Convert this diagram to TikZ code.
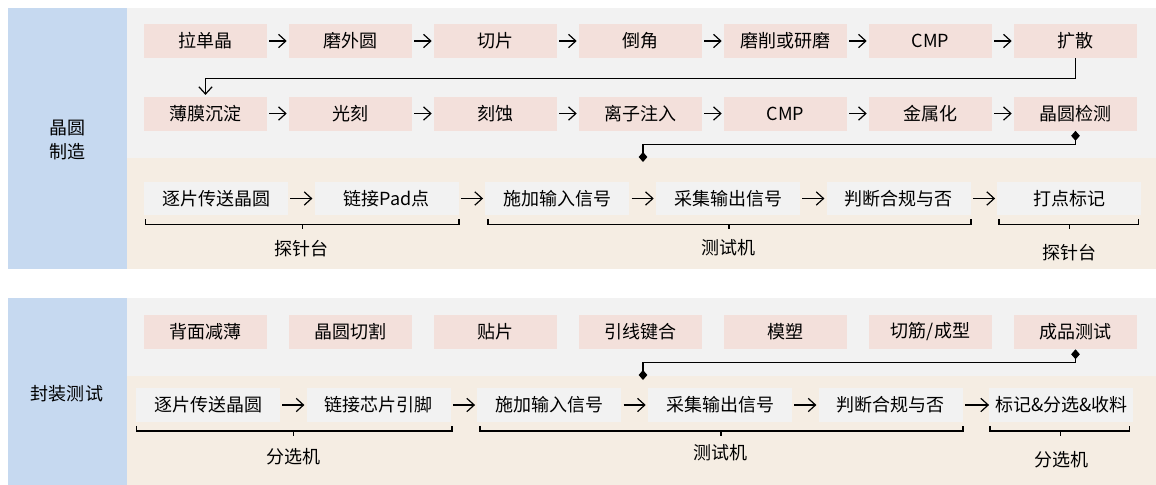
\documentclass[tikz,border=0pt]{standalone}
\usepackage{fontspec}
\setmainfont{Noto Sans CJK SC}
\usetikzlibrary{positioning,calc}
\usetikzlibrary{arrows.meta}

\definecolor{panelblue}{RGB}{198,217,240}
\definecolor{stepgray}{RGB}{242,242,242}
\definecolor{testbeige}{RGB}{245,237,227}
\definecolor{procpink}{RGB}{243,224,219}

\begin{document}
\begin{tikzpicture}[x=0.75pt,y=-0.75pt,
      font=\fontsize{13.5}{18}\selectfont,
      proc/.style={fill=procpink, minimum width=92.25pt, minimum height=25.5pt, inner sep=0pt},
      test/.style={fill=stepgray, minimum width=108pt, minimum height=25pt, inner sep=0pt},
      flow/.style={-{Straight Barb[length=5.5pt,width=10pt]}, line width=0.9pt,
         shorten <=1.5pt, shorten >=1.5pt},
      link/.style={{Diamond[length=7.5pt,width=6.5pt]}-{Diamond[length=7.5pt,width=6.5pt]},
         line width=0.9pt},
      bracket/.style={line width=0.9pt}]

   \useasboundingbox (0,0) rectangle (1156,485);

   % panels
   \fill[panelblue] (8,8)     rectangle (127,269);
   \fill[stepgray]  (127,8)   rectangle (1156,157.5);
   \fill[testbeige] (127,157.5) rectangle (1156,269);
   \fill[panelblue] (8,298)   rectangle (127,485);
   \fill[stepgray]  (127,298) rectangle (1156,376);
   \fill[testbeige] (127,376) rectangle (1156,485);

   \node[align=center] (fab) at (67,140) {晶圆\\制造};
   \node               (pkg) at (67,394) {封装测试};

   % wafer process, first row
   \node[proc]                    (w1) at (205.5,41) {拉单晶};
   \node[proc, right=16.1pt of w1] (w2) {磨外圆};
   \node[proc, right=16.1pt of w2] (w3) {切片};
   \node[proc, right=16.1pt of w3] (w4) {倒角};
   \node[proc, right=16.1pt of w4] (w5) {磨削或研磨};
   \node[proc, right=16.1pt of w5] (w6) {CMP};
   \node[proc, right=16.1pt of w6] (w7) {扩散};

   % wafer process, second row
   \node[proc, below=28.5pt of w1] (f1) {薄膜沉淀};
   \node[proc, right=16.1pt of f1] (f2) {光刻};
   \node[proc, right=16.1pt of f2] (f3) {刻蚀};
   \node[proc, right=16.1pt of f3] (f4) {离子注入};
   \node[proc, right=16.1pt of f4] (f5) {CMP};
   \node[proc, right=16.1pt of f5] (f6) {金属化};
   \node[proc, right=16.1pt of f6] (f7) {晶圆检测};

   % wafer probing
   \node[test]                    (p1) at (216,198.5) {逐片传送晶圆};
   \node[test, right=19.6pt of p1] (p2) {链接Pad点};
   \node[test, right=19.6pt of p2] (p3) {施加输入信号};
   \node[test, right=19.6pt of p3] (p4) {采集输出信号};
   \node[test, right=19.6pt of p4] (p5) {判断合规与否};
   \node[test, right=19.6pt of p5] (p6) {打点标记};

   % packaging
   \node[proc]                    (k1) at (205.5,332) {背面减薄};
   \node[proc, right=16.1pt of k1] (k2) {晶圆切割};
   \node[proc, right=16.1pt of k2] (k3) {贴片};
   \node[proc, right=16.1pt of k3] (k4) {引线键合};
   \node[proc, right=16.1pt of k4] (k5) {模塑};
   \node[proc, right=16.1pt of k5] (k6) {切筋/成型};
   \node[proc, right=16.1pt of k6] (k7) {成品测试};

   % final test
   \node[test]                    (s1) at (208,405) {逐片传送晶圆};
   \node[test, right=19.6pt of s1] (s2) {链接芯片引脚};
   \node[test, right=19.6pt of s2] (s3) {施加输入信号};
   \node[test, right=19.6pt of s3] (s4) {采集输出信号};
   \node[test, right=19.6pt of s4] (s5) {判断合规与否};
   \node[test, right=19.6pt of s5] (s6) {标记\&分选\&收料};

   \draw[flow] (w1) -- (w2);
   \draw[flow] (w2) -- (w3);
   \draw[flow] (w3) -- (w4);
   \draw[flow] (w4) -- (w5);
   \draw[flow] (w5) -- (w6);
   \draw[flow] (w6) -- (w7);
   \draw[flow, shorten <=0pt, shorten >=1pt] (w7.south) -- ++(0,20) -| (f1.north);
   \draw[flow] (f1) -- (f2);
   \draw[flow] (f2) -- (f3);
   \draw[flow] (f3) -- (f4);
   \draw[flow] (f4) -- (f5);
   \draw[flow] (f5) -- (f6);
   \draw[flow] (f6) -- (f7);

   \draw[flow] (p1) -- (p2);
   \draw[flow] (p2) -- (p3);
   \draw[flow] (p3) -- (p4);
   \draw[flow] (p4) -- (p5);
   \draw[flow] (p5) -- (p6);

   \draw[flow] (s1) -- (s2);
   \draw[flow] (s2) -- (s3);
   \draw[flow] (s3) -- (s4);
   \draw[flow] (s4) -- (s5);
   \draw[flow, shorten >=0pt] (s5) -- (s6);

   % hand over to test
   \coordinate (ptop) at (643,162);
   \coordinate (pbot) at (643,380);
   \draw[link] (f7.south) -- ++(0,14) -| (ptop);
   \draw[link] (k7.south) -- ++(0,13) -| (pbot);

   % brackets, wafer probing
   \draw[bracket] ($(p1.south west)+(2,4)$) -- ($(p1.south west)+(2,9)$)
      -- ($(p2.south east)+(0,9)$) -- ($(p2.south east)+(0,4)$);
   \draw[bracket] ($(p1.south west)!0.5!(p2.south east)+(1,9)$) -- ++(0,5);
   \draw[bracket] ($(p3.south west)+(3,4)$) -- ($(p3.south west)+(3,9)$)
      -- ($(p5.south east)+(0,9)$) -- ($(p5.south east)+(0,4)$);
   \draw[bracket] ($(p3.south west)!0.5!(p5.south east)+(1,9)$) -- ++(0,5);
   \draw[bracket] ($(p6.south west)+(2,4)$) -- ($(p6.south west)+(2,9)$)
      -- ($(p6.south east)+(-3,9)$) -- ($(p6.south east)+(-3,4)$);
   \draw[bracket] ($(p6.south west)!0.5!(p6.south east)+(0,9)$) -- ++(0,5);
   \node (probe1) at ($(p1.south west)!0.5!(p2.south east)+(0,33)$) {探针台};
   \node (tester1) at ($(p3.south west)!0.5!(p5.south east)+(0,32)$) {测试机};
   \node (probe2) at ($(p6.south west)!0.5!(p6.south east)+(0,37)$) {探针台};

   % brackets, final test
   \draw[bracket] ($(s1.south west)+(1,4)$) -- ($(s1.south west)+(1,9)$)
      -- ($(s2.south east)+(1,9)$) -- ($(s2.south east)+(1,4)$);
   \draw[bracket] ($(s1.south west)!0.5!(s2.south east)+(0,9)$) -- ++(0,5);
   \draw[bracket] ($(s3.south west)+(3,4)$) -- ($(s3.south west)+(3,9)$)
      -- ($(s5.south east)+(0,9)$) -- ($(s5.south east)+(0,4)$);
   \draw[bracket] ($(s3.south west)!0.5!(s5.south east)+(1,9)$) -- ++(0,5);
   \draw[bracket] ($(s6.south west)+(1,4)$) -- ($(s6.south west)+(1,9)$)
      -- ($(s6.south east)+(-4,9)$) -- ($(s6.south east)+(-4,4)$);
   \draw[bracket] ($(s6.south west)!0.5!(s6.south east)+(-1,9)$) -- ++(0,5);
   \node (sorter1) at ($(s1.south west)!0.5!(s2.south east)+(0,35)$) {分选机};
   \node (tester2) at ($(s3.south west)!0.5!(s5.south east)+(0,31)$) {测试机};
   \node (sorter2) at ($(s6.south west)!0.5!(s6.south east)+(0,38)$) {分选机};

\end{tikzpicture}
\end{document}
